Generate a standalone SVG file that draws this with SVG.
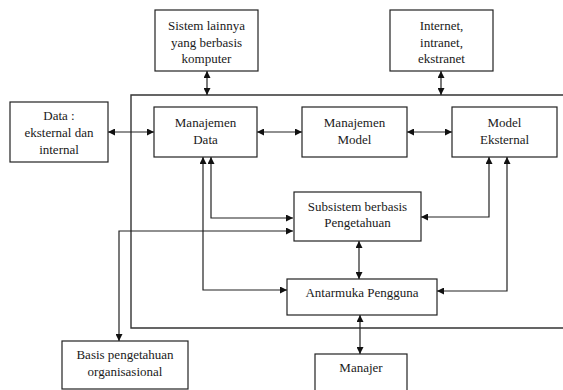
<svg xmlns="http://www.w3.org/2000/svg" width="563" height="390" viewBox="0 0 563 390">
<style>
.box{fill:#fff;stroke:#222;stroke-width:1.2}
.t{font-size:13px;fill:#1a1a1a;text-anchor:middle}
.c{fill:none;stroke:#222;stroke-width:1.2;marker-start:url(#ah);marker-end:url(#ah)}
.frame{fill:none;stroke:#333;stroke-width:1.4}
</style>
<defs>
<marker id="ah" viewBox="0 0 10 10" refX="10" refY="5" markerWidth="7" markerHeight="7" markerUnits="userSpaceOnUse" orient="auto-start-reverse">
<path d="M0,0 L10,5 L0,10 Z" fill="#111"/>
</marker>
</defs>
<rect width="563" height="390" fill="#fff"/>
<path class="frame" d="M563,95 H131 V328 H563"/>
<g id="connectors">
<path class="c" d="M207,71 V95"/>
<path class="c" d="M441,71 V95"/>
<path class="c" d="M108,132 H154"/>
<path class="c" d="M257,132 H302"/>
<path class="c" d="M407,132 H452"/>
<path class="c" d="M211,157 V218 H293"/>
<path class="c" d="M119,341 V231 H293"/>
<path class="c" d="M203,157 V290 H287"/>
<path class="c" d="M489,157 V217 H421"/>
<path class="c" d="M507,157 V291 H437"/>
<path class="c" d="M359,241 V279"/>
<path class="c" d="M360,315 V354"/>
</g>
<g font-family="Liberation Serif, Tinos, Times New Roman, DejaVu Serif, serif">
<g id="sistem">
<rect class="box" x="155" y="10" width="103" height="61"/>
<text class="t" x="206.5" y="30">Sistem lainnya</text>
<text class="t" x="206.5" y="47">yang berbasis</text>
<text class="t" x="206.5" y="63">komputer</text>
</g>
<g id="internet">
<rect class="box" x="390" y="10" width="103" height="61"/>
<text class="t" x="441.5" y="30">Internet,</text>
<text class="t" x="441.5" y="47">intranet,</text>
<text class="t" x="441.5" y="63">ekstranet</text>
</g>
<g id="data">
<rect class="box" x="10" y="102" width="98" height="60"/>
<text class="t" x="59" y="120">Data :</text>
<text class="t" x="59" y="137">eksternal dan</text>
<text class="t" x="59" y="154">internal</text>
</g>
<g id="manajemen-data">
<rect class="box" x="154" y="107" width="103" height="50"/>
<text class="t" x="205.5" y="127">Manajemen</text>
<text class="t" x="205.5" y="144">Data</text>
</g>
<g id="manajemen-model">
<rect class="box" x="302" y="107" width="105" height="50"/>
<text class="t" x="354.5" y="127">Manajemen</text>
<text class="t" x="354.5" y="144">Model</text>
</g>
<g id="model-eksternal">
<rect class="box" x="452" y="107" width="105" height="50"/>
<text class="t" x="504.5" y="127">Model</text>
<text class="t" x="504.5" y="144">Eksternal</text>
</g>
<g id="subsistem">
<rect class="box" x="294" y="192" width="127" height="49"/>
<text class="t" x="357.5" y="211">Subsistem berbasis</text>
<text class="t" x="357.5" y="227">Pengetahuan</text>
</g>
<g id="antarmuka">
<rect class="box" x="287" y="279" width="150" height="36"/>
<text class="t" x="362" y="297">Antarmuka Pengguna</text>
</g>
<g id="basis">
<rect class="box" x="62" y="341" width="126" height="48"/>
<text class="t" x="125" y="359">Basis pengetahuan</text>
<text class="t" x="125" y="376">organisasional</text>
</g>
<g id="manajer">
<rect class="box" x="315" y="354" width="92" height="40"/>
<text class="t" x="361" y="372">Manajer</text>
</g>
</g>
</svg>
